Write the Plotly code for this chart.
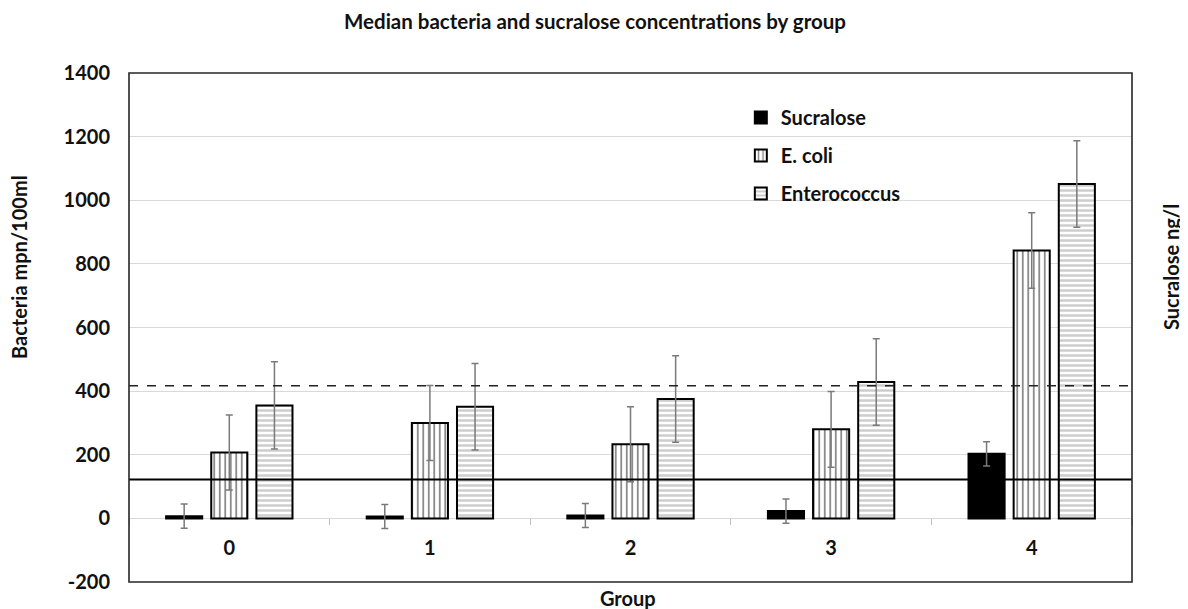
import plotly.graph_objects as go

groups = ["0", "1", "2", "3", "4"]
sucralose = [7, 6, 9, 23, 203]
sucralose_err = [38, 38, 38, 38, 38]
ecoli = [207, 300, 233, 280, 842]
ecoli_err = [118, 118, 118, 119, 119]
entero = [355, 351, 375, 429, 1051]
entero_err = [137, 136, 136, 136, 136]
solid_ref = 122
dashed_ref = 417
y_range = [-200, 1400]
y_ticks = [-200, 0, 200, 400, 600, 800, 1000, 1200, 1400]
y_ticktext = ["-200", "0", "200", "400", "600", "800", "1000", "1200", "1400"]

FONT = "Lato"
TXT = "#111111"
ERR = dict(type="data", visible=True, color="#7a7a7a", thickness=1.5, width=3.5)

# page body has an 8px offset; figure sized so the plot area lands where the reference has it
W, H = 1180, 601
ML, MR, MT, MB = 121, 56, 65, 27
PW, PH = W - ML - MR, H - MT - MB

fig = go.Figure()
fig.add_trace(go.Bar(
    x=groups, y=sucralose, name="Sucralose", yaxis="y2", offsetgroup="s",
    legendgroup="s",
    marker=dict(color="black", line=dict(color="black", width=2)),
    error_y=dict(array=sucralose_err, **ERR),
))
fig.add_trace(go.Bar(
    x=groups, y=ecoli, name="E. coli", offsetgroup="e", legendgroup="e",
    marker=dict(color="white", line=dict(color="black", width=2),
                pattern=dict(shape="|", fgcolor="black", bgcolor="white",
                             size=5.5, solidity=0.3)),
    error_y=dict(array=ecoli_err, **ERR),
))
fig.add_trace(go.Bar(
    x=groups, y=entero, name="Enterococcus", offsetgroup="n", legendgroup="n",
    marker=dict(color="white", line=dict(color="black", width=2),
                pattern=dict(shape="-", fgcolor="#9c9c9c", bgcolor="white",
                             size=5, solidity=0.5)),
    error_y=dict(array=entero_err, **ERR),
))

bold20 = dict(family=FONT, size=20, color=TXT, weight="bold")

fig.update_layout(
    width=W, height=H,
    margin=dict(l=ML, r=MR, t=MT, b=MB),
    paper_bgcolor="white", plot_bgcolor="white",
    barmode="group", bargap=0.325, bargroupgap=0.2,
    font=dict(family=FONT, color=TXT),
    title=dict(text="Median bacteria and sucralose concentrations by group",
               x=587 / W, xref="container", xanchor="center",
               y=1 - 14 / H, yref="container", yanchor="middle",
               font=dict(family=FONT, size=20.5, color=TXT, weight="bold")),
    xaxis=dict(type="category", anchor="free", position=0.125,
               showline=False, showgrid=False, zeroline=False,
               ticks="outside", tickson="boundaries", ticklen=6,
               tickcolor="#bfbfbf", tickwidth=1,
               ticklabelstandoff=16, tickfont=bold20),
    yaxis=dict(range=y_range, tickvals=y_ticks, ticktext=y_ticktext,
               showgrid=True, gridcolor="#d9d9d9",
               gridwidth=1, zeroline=False, showline=False, ticks="",
               ticklabelstandoff=18, tickfont=bold20),
    yaxis2=dict(range=y_range, overlaying="y", side="right", showgrid=False,
                zeroline=False, showline=False, showticklabels=False, ticks=""),
    legend=dict(x=0.610, y=0.951, xanchor="left", yanchor="top",
                bgcolor="rgba(0,0,0,0)", traceorder="grouped",
                font=bold20, itemwidth=30, tracegroupgap=9),
    showlegend=True,
)

# reference lines drawn over bars
fig.add_shape(type="line", xref="paper", x0=0, x1=1, yref="y", y0=solid_ref, y1=solid_ref,
              line=dict(color="black", width=2), layer="above")
fig.add_shape(type="line", xref="paper", x0=0, x1=1, yref="y", y0=dashed_ref, y1=dashed_ref,
              line=dict(color="#222222", width=1.6, dash="dash"), layer="above")
# plot-area frame
fig.add_shape(type="rect", xref="paper", yref="paper", x0=0, x1=1, y0=0, y1=1,
              line=dict(color="#262626", width=1.6), layer="above")

# axis titles (screen positions from reference, converted to paper coords)
def px_x(sx):
    return (sx - 8 - ML) / PW

def px_y(sy):
    return 1 - (sy - 8 - MT) / PH

fig.add_annotation(text="Group", xref="paper", yref="paper", x=px_x(628), y=px_y(598),
                   xanchor="center", yanchor="middle", showarrow=False, font=bold20)
fig.add_annotation(text="Bacteria mpn/100ml", xref="paper", yref="paper",
                   x=px_x(19), y=px_y(267), textangle=-90,
                   xanchor="center", yanchor="middle", showarrow=False, font=bold20)
fig.add_annotation(text="Sucralose ng/l", xref="paper", yref="paper",
                   x=px_x(1171), y=px_y(267), textangle=-90,
                   xanchor="center", yanchor="middle", showarrow=False, font=bold20)

fig.write_html("out.html")
